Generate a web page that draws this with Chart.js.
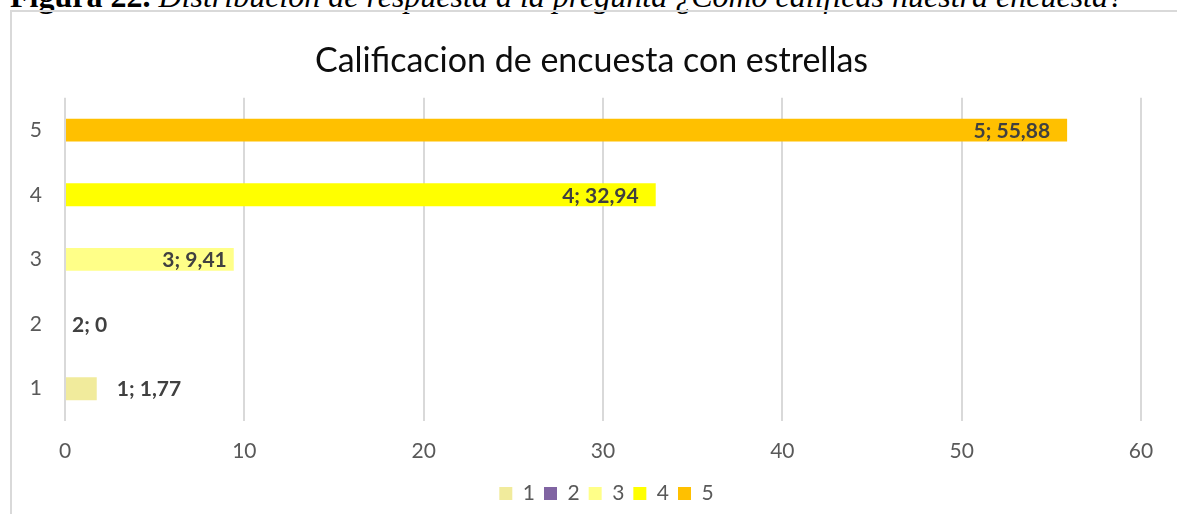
<!DOCTYPE html>
<html><head><meta charset="utf-8">
<script src="https://cdn.jsdelivr.net/npm/chart.js@4/dist/chart.umd.min.js"></script>
<style>
html,body{margin:0;padding:0;background:#fff;overflow:hidden;width:1177px;height:514px}
#cap{position:absolute;left:10px;top:-20px;font-family:"Liberation Serif";font-size:32px;line-height:1;white-space:nowrap;color:#000}
#frame{position:absolute;left:10px;top:10px;width:1300px;height:600px;border-left:2px solid #D9D9D9;border-top:2px solid #D9D9D9}
#wrap{position:absolute;left:0;top:0;width:1177px;height:514px}
</style></head><body>
<div id="cap"><b>Figura 22.</b> <i>Distribución de respuesta a la pregunta ¿Cómo calificas nuestra encuesta?</i></div>
<div id="frame"></div>
<div id="wrap"><canvas id="c" width="1177" height="514"></canvas></div>
<script>
const categories = ['1', '2', '3', '4', '5'];
const seriesNames = ['1', '2', '3', '4', '5'];
const values = [1.77, 0, 9.41, 32.94, 55.88];
const seriesColors = ['#F1EB9C', '#8064A2', '#FFFF88', '#FFFF00', '#FFC000'];
const xTicks = [0, 10, 20, 30, 40, 50, 60];

const datasets = seriesNames.map((name, i) => ({
  label: name,
  data: categories.map((c, j) => (j === i ? values[i] : null)),
  backgroundColor: seriesColors[i],
  borderWidth: 0,
  barPercentage: 0.355,
  categoryPercentage: 1
}));

const labelPlugin = {
  id: 'barLabels',
  afterDatasetsDraw(chart, args, opts) {
    const ctx = chart.ctx;
    ctx.save();
    ctx.font = 'bold 21px Lato';
    ctx.fillStyle = '#404040';
    ctx.textBaseline = 'middle';
    chart.data.datasets.forEach((ds, i) => {
      const el = chart.getDatasetMeta(i).data[i];
      if (!el) return;
      const v = ds.data[i];
      const txt = categories[i] + '; ' + String(v).replace('.', ',');
      const off = opts.offsets[i];
      ctx.textAlign = off >= 0 ? 'left' : 'right';
      ctx.fillText(txt, el.x + off, el.y + 1);
    });
    ctx.restore();
  }
};

// Shift title and legend horizontally (the original chart frame is wider than the picture)
const shiftPlugin = {
  id: 'boxShift',
  afterLayout(chart, args, opts) {
    if (chart.titleBlock) { chart.titleBlock.left += opts.title; chart.titleBlock.right += opts.title; }
    if (chart.legend) { chart.legend.left += opts.legend; chart.legend.right += opts.legend; }
  }
};

function make() {
  new Chart(document.getElementById('c'), {
    type: 'bar',
    data: { labels: categories, datasets },
    plugins: [labelPlugin, shiftPlugin],
    options: {
      responsive: false,
      animation: false,
      indexAxis: 'y',
      layout: { padding: { left: 0, right: 36, top: 0, bottom: 0 } },
      scales: {
        x: {
          min: 0, max: 60,
          afterBuildTicks(s) { s.ticks = xTicks.map(v => ({ value: v })); },
          afterFit(s) { s.height = 53; },
          grid: { color: '#D9D9D9', lineWidth: 2, drawTicks: false },
          border: { display: false },
          ticks: { color: '#595959', font: { family: 'Lato', size: 21 }, padding: 18 }
        },
        y: {
          stacked: true,
          reverse: true,
          afterFit(s) { s.width = 65; },
          grid: { display: false, drawTicks: false },
          border: { display: false },
          ticks: { color: '#595959', font: { family: 'Lato', size: 21 }, padding: 23 }
        }
      },
      plugins: {
        title: {
          display: true,
          text: 'Calificacion de encuesta con estrellas',
          color: '#0D0D0D',
          font: { family: 'Lato', size: 34, weight: 'normal' },
          padding: { top: 41, bottom: 16 }
        },
        legend: {
          position: 'bottom',
          labels: { color: '#595959', font: { family: 'Lato', size: 21 }, boxWidth: 13, boxHeight: 13, padding: 9 }
        },
        tooltip: { enabled: false },
        barLabels: { offsets: [20, 7, -7, -17, -17] },
        boxShift: { title: 21, legend: 36 }
      }
    }
  });
}
Promise.all([
  document.fonts.load('21px Lato'),
  document.fonts.load('bold 21px Lato'),
  document.fonts.load('34px Lato')
]).then(make, make);
</script>
</body></html>
